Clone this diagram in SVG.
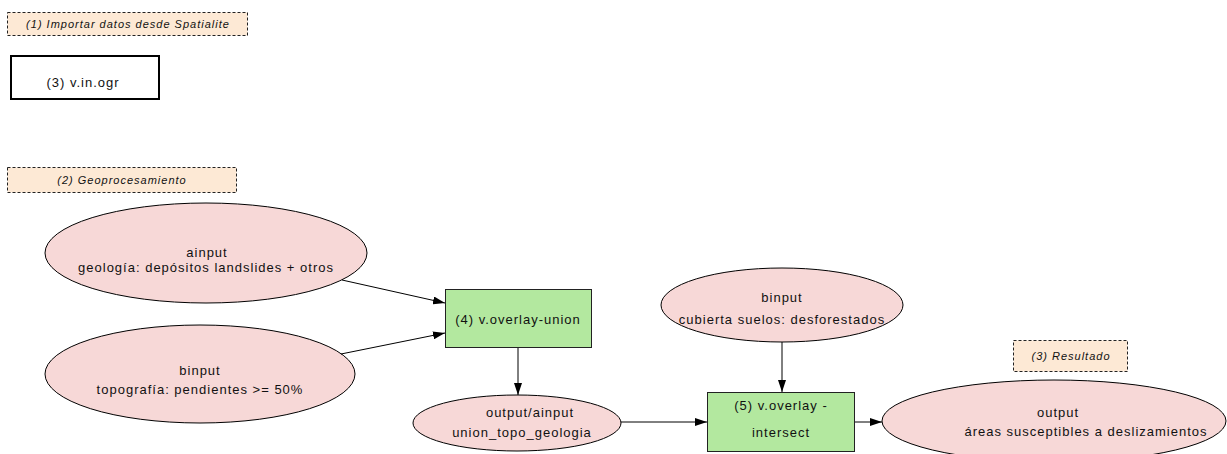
<svg xmlns="http://www.w3.org/2000/svg" width="1227" height="454" viewBox="0 0 1227 454">
<style>
  .bg { fill: #ffffff; }
  .note rect { fill: #fde9d5; stroke: #222; stroke-width: 1; stroke-dasharray: 3 2; }
  .note text { font-family: "Liberation Sans", Arial, sans-serif; font-size: 11px; font-style: italic; letter-spacing: 1px; fill: #111; text-anchor: middle; }
  .data ellipse { fill: #f7d8d7; stroke: #000; stroke-width: 1; }
  .mod rect { fill: #b3e89f; stroke: #222; stroke-width: 1; }
  .act rect { fill: #ffffff; stroke: #000; stroke-width: 2; }
  text.lbl { font-family: "Liberation Sans", Arial, sans-serif; font-size: 13px; letter-spacing: 1px; fill: #111; text-anchor: middle; }
  .conn line { stroke: #000; stroke-width: 1; marker-end: url(#arr); }
</style>
<defs>
  <marker id="arr" viewBox="0 0 12 8" refX="12" refY="4" markerWidth="12" markerHeight="8" markerUnits="userSpaceOnUse" orient="auto">
    <path d="M0,0 L12,4 L0,8 Z" fill="#000"/>
  </marker>
</defs>
<rect class="bg" x="0" y="0" width="1227" height="454"/>

<g id="note1" class="note">
  <rect x="7.5" y="12.5" width="240" height="23"/>
  <text x="128" y="28">(1) Importar datos desde Spatialite</text>
</g>
<g id="note2" class="note">
  <rect x="7.5" y="167.5" width="229" height="25"/>
  <text x="122" y="184">(2) Geoprocesamiento</text>
</g>
<g id="note3" class="note">
  <rect x="1013.5" y="340.5" width="114" height="31"/>
  <text x="1071" y="360">(3) Resultado</text>
</g>

<g id="vinogr" class="act">
  <rect x="11" y="56" width="148" height="43"/>
  <text class="lbl" x="83" y="87">(3) v.in.ogr</text>
</g>

<g id="ainput" class="data">
  <ellipse cx="206" cy="253" rx="161" ry="50"/>
  <text class="lbl" x="207" y="257">ainput</text>
  <text class="lbl" x="206" y="272">geología: depósitos landslides + otros</text>
</g>

<g id="binput_topo" class="data">
  <ellipse cx="200" cy="374" rx="155" ry="49"/>
  <text class="lbl" x="200" y="375">binput</text>
  <text class="lbl" x="200" y="394">topografía: pendientes &gt;= 50%</text>
</g>

<g id="union" class="mod">
  <rect x="445.5" y="289.5" width="146" height="58"/>
  <text class="lbl" x="518" y="324">(4) v.overlay-union</text>
</g>

<g id="out_union" class="data">
  <ellipse cx="517" cy="423" rx="104" ry="28"/>
  <text class="lbl" x="530" y="417">output/ainput</text>
  <text class="lbl" x="522" y="437">union_topo_geologia</text>
</g>

<g id="binput_cub" class="data">
  <ellipse cx="782" cy="305" rx="121" ry="37"/>
  <text class="lbl" x="782" y="302">binput</text>
  <text class="lbl" x="782" y="324">cubierta suelos: desforestados</text>
</g>

<g id="intersect" class="mod">
  <rect x="707.5" y="392.5" width="147" height="59"/>
  <text class="lbl" x="781" y="410">(5) v.overlay -</text>
  <text class="lbl" x="781" y="437">intersect</text>
</g>

<g id="output" class="data">
  <ellipse cx="1054" cy="421" rx="172" ry="41"/>
  <text class="lbl" x="1058" y="417">output</text>
  <text class="lbl" x="1086" y="436">áreas susceptibles a deslizamientos</text>
</g>

<g id="connectors" class="conn">
  <line x1="342" y1="280" x2="445" y2="303"/>
  <line x1="341" y1="354" x2="445" y2="333"/>
  <line x1="518" y1="348" x2="518" y2="395"/>
  <line x1="621" y1="422" x2="707" y2="422"/>
  <line x1="782" y1="342" x2="782" y2="392"/>
  <line x1="855" y1="422" x2="882" y2="422"/>
</g>
</svg>
